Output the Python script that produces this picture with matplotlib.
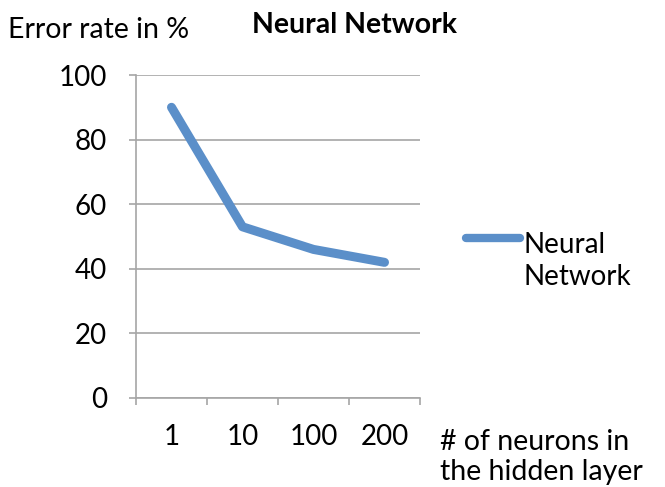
import numpy as np
import matplotlib.pyplot as plt
from matplotlib.lines import Line2D

# Datos
categorias = ['1', '10', '100', '200']
error = [90, 53, 46, 42]
y_ticks = [0, 20, 40, 60, 80, 100]

plt.rcParams['font.family'] = ['Lato', 'DejaVu Sans']
gris = '#A6A6A6'
azul = '#5B8FC9'

fig = plt.figure(figsize=(6.65, 4.87), dpi=100)
ax = fig.add_axes([136/665, 1-398/487, (420-136)/665, (398-75)/487])

x = np.arange(len(categorias))
ax.plot(x, error, color=azul, lw=6.5, solid_capstyle='round', solid_joinstyle='round')

ax.set_xlim(-0.5, len(categorias)-0.5)
ax.set_ylim(0, 100)
ax.set_yticks(y_ticks)
ax.set_xticks(x)
ax.set_xticklabels(categorias)
ax.set_xticks(np.arange(len(categorias)+1)-0.5, minor=True)
ax.tick_params(axis='x', which='major', length=0, pad=19, labelsize=20)
ax.tick_params(axis='x', which='minor', length=5, color=gris, width=1.2)
ax.tick_params(axis='y', length=5, color=gris, width=1.2, labelsize=20, pad=16)
ax.grid(axis='y', color=gris, lw=1.2)
ax.set_axisbelow(True)
for s in ['top', 'right']:
    ax.spines[s].set_visible(False)
for s in ['left', 'bottom']:
    ax.spines[s].set_color(gris)
    ax.spines[s].set_linewidth(1.2)

fig.text(355/665, 1-25/487, 'Neural Network', ha='center', va='center', fontsize=20.5, fontweight='bold')
fig.text(8/665, 1-30/487, 'Error rate in %', ha='left', va='center', fontsize=20.5)
fig.text(440/665, 1-457/487, '# of neurons in\nthe hidden layer', ha='left', va='center', fontsize=20.5, linespacing=1.15)

# Leyenda a mano
fig.add_artist(Line2D([466/665, 520/665], [1-238/487, 1-238/487], color=azul, lw=6, solid_capstyle='round'))
fig.text(524/665, 1-261/487, 'Neural\nNetwork', ha='left', va='center', fontsize=20, linespacing=1.3)

plt.savefig('out.png', dpi=100)
